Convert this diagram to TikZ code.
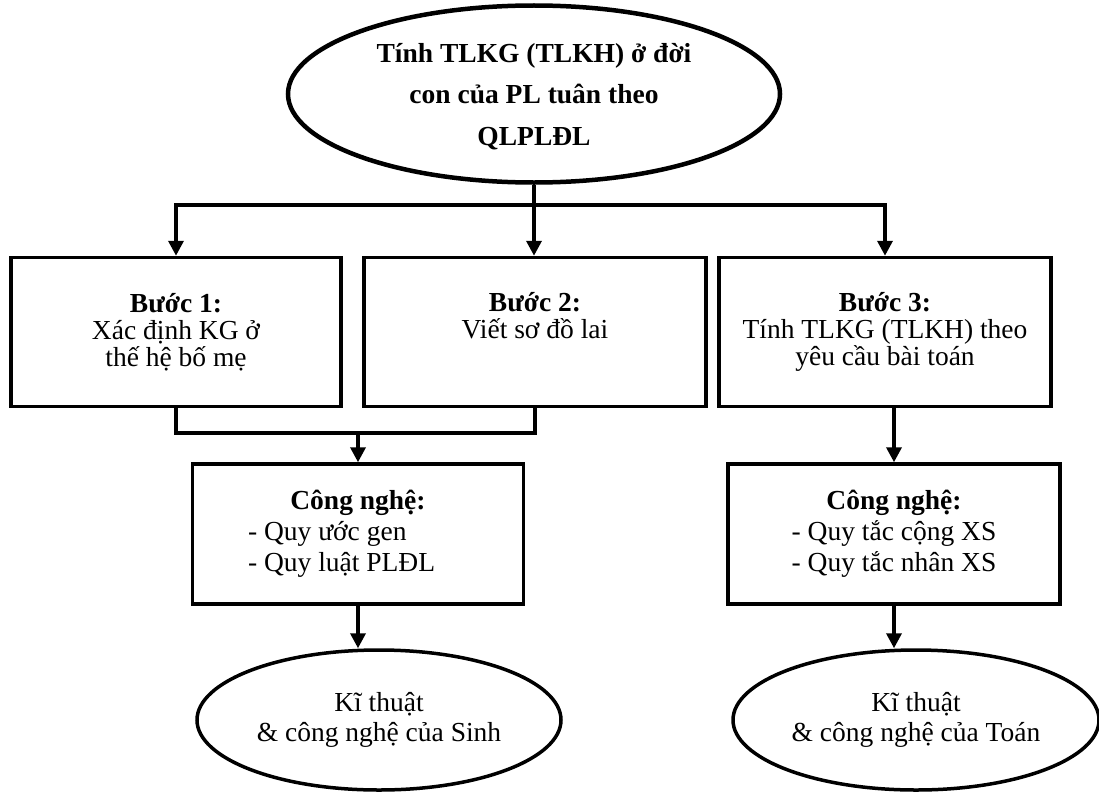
\documentclass[tikz,border=0pt]{standalone}
\usepackage{fontspec}
\setmainfont{Liberation Serif}
\usetikzlibrary{shapes.geometric,arrows.meta}

\begin{document}
\begin{tikzpicture}[x=1pt,y=-1pt,
  stepbox/.style={draw,line width=3.5pt,minimum width=332pt,minimum height=149pt,align=center,font=\fontsize{27.5}{27}\selectfont},
  techbox/.style={draw,line width=3.5pt,minimum width=332pt,minimum height=140pt,align=center,font=\fontsize{27.5}{31}\selectfont},
  oval/.style={draw,ellipse,line width=3.5pt,minimum width=364pt,minimum height=140pt,align=center,font=\fontsize{27.5}{30}\selectfont},
  link/.style={line width=3.5pt},
  arr/.style={line width=3.5pt,-{Triangle[length=15pt,width=15pt]}}]

\useasboundingbox (0,0) rectangle (1099,792);

% Goal
\node[draw,ellipse,line width=4.5pt,minimum width=492pt,minimum height=177pt,align=center,text depth=-8pt,font=\bfseries\fontsize{27.5}{41.5}\selectfont] (goal) at (534,94) {Tính TLKG (TLKH) ở đời\\ con của PL tuân theo\\ QLPLĐL};

% Steps
\node[stepbox,minimum width=330pt] (step1) at (176,332) {\textbf{Bước 1:}\\ Xác định KG ở\\ thế hệ bố mẹ};
\node[stepbox,minimum width=342pt,text depth=33pt] (step2) at (535,332) {\textbf{Bước 2:}\\ Viết sơ đồ lai};
\node[stepbox] (step3) at (885,332) {\textbf{Bước 3:}\\ Tính TLKG (TLKH) theo\\ yêu cầu bài toán};

% Technology boxes
\node[techbox,minimum width=331pt] (tech1) at (358,534) {\textbf{Công nghệ:}\\ \makebox[220pt][l]{- Quy ước gen}\\ \makebox[220pt][l]{- Quy luật PLĐL}};
\node[techbox] (tech2) at (894,534) {\textbf{Công nghệ:}\\ - Quy tắc cộng XS\\ - Quy tắc nhân XS};

% Results
\node[oval] (sinh) at (379,720) {Kĩ thuật\\ \& công nghệ của Sinh};
\node[oval,minimum width=366pt] (toan) at (916,720) {Kĩ thuật\\ \& công nghệ của Toán};

% Arrows
\coordinate (split) at (534,205);
\coordinate (join) at (358,433);
\draw[link] (goal.south) -- (split);
\draw[arr] (split) -- (split |- step2.north);
\draw[arr] (split) -| (step1.north);
\draw[arr] (split) -| (step3.north);
\draw[link] (step1.south) |- (join) -| (step2.south);
\draw[arr] (join) -- (tech1.north);
\draw[arr] (tech2.north |- step3.south) -- (tech2.north);
\draw[arr] (tech1.south) -- (tech1.south |- sinh.north);
\draw[arr] (tech2.south) -- (tech2.south |- toan.north);

\end{tikzpicture}
\end{document}
